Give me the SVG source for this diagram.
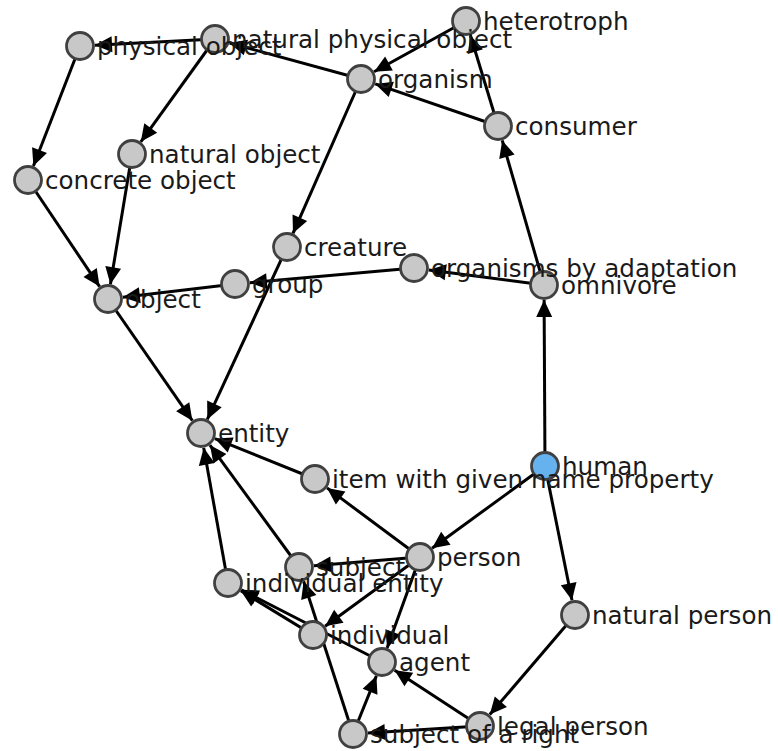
<svg xmlns="http://www.w3.org/2000/svg" width="778" height="751" viewBox="0 0 778 751">
<style>
.e{stroke:#000;stroke-width:3;fill:none;marker-end:url(#ah)}
.n circle{fill:#c8c8c8;stroke:#404040;stroke-width:2.8}
.n text{font-family:"DejaVu Sans",sans-serif;font-size:24.6px;fill:#1a1a1a}
#human circle{fill:#66b2ee}
</style>
<defs>
<marker id="ah" markerUnits="userSpaceOnUse" markerWidth="17" markerHeight="16" refX="17" refY="8" orient="auto" overflow="visible">
<path d="M0,0 L17,8 L0,16 z" fill="#000"/>
</marker>
</defs>
<rect width="778" height="751" fill="#fff"/>
<g id="edges">
<line class="e" x1="80" y1="46" x2="33.4" y2="166"/>
<line class="e" x1="215" y1="39" x2="140.8" y2="141.8"/>
<line class="e" x1="215" y1="39" x2="95" y2="45.2"/>
<line class="e" x1="361" y1="79" x2="229.5" y2="43"/>
<line class="e" x1="466" y1="21" x2="374.1" y2="71.7"/>
<line class="e" x1="498" y1="126" x2="375.2" y2="83.9"/>
<line class="e" x1="498" y1="126" x2="470.4" y2="35.3"/>
<line class="e" x1="544" y1="285" x2="502.2" y2="140.4"/>
<line class="e" x1="544" y1="285" x2="428.9" y2="270"/>
<line class="e" x1="361" y1="79" x2="293" y2="233.3"/>
<line class="e" x1="287" y1="247" x2="207.3" y2="419.4"/>
<line class="e" x1="132" y1="154" x2="110.4" y2="284.2"/>
<line class="e" x1="28" y1="180" x2="99.6" y2="286.6"/>
<line class="e" x1="414" y1="268" x2="249.9" y2="282.7"/>
<line class="e" x1="235" y1="284" x2="122.9" y2="297.2"/>
<line class="e" x1="108" y1="299" x2="192.4" y2="420.7"/>
<line class="e" x1="545" y1="466" x2="544.1" y2="300"/>
<line class="e" x1="545" y1="466" x2="432.1" y2="548.2"/>
<line class="e" x1="545" y1="466" x2="572" y2="600.3"/>
<line class="e" x1="420" y1="557" x2="327" y2="487.9"/>
<line class="e" x1="315" y1="479" x2="214.9" y2="438.6"/>
<line class="e" x1="299" y1="567" x2="209.9" y2="445.1"/>
<line class="e" x1="228" y1="583" x2="203.7" y2="447.8"/>
<line class="e" x1="420" y1="557" x2="314" y2="565.8"/>
<line class="e" x1="420" y1="557" x2="325.1" y2="626.2"/>
<line class="e" x1="420" y1="557" x2="387.1" y2="647.9"/>
<line class="e" x1="313" y1="635" x2="240.8" y2="590.8"/>
<line class="e" x1="382" y1="662" x2="241.3" y2="589.8"/>
<line class="e" x1="353" y1="734" x2="303.6" y2="581.3"/>
<line class="e" x1="353" y1="734" x2="376.4" y2="675.9"/>
<line class="e" x1="480" y1="726" x2="394.6" y2="670.2"/>
<line class="e" x1="575" y1="615" x2="489.8" y2="714.6"/>
<line class="e" x1="480" y1="726" x2="368" y2="733.1"/>
</g>
<g id="physical-object" class="n"><circle cx="80" cy="46" r="13.5"/></g>
<g id="natural-physical-object" class="n"><circle cx="215" cy="39" r="13.5"/></g>
<g id="organism" class="n"><circle cx="361" cy="79" r="13.5"/></g>
<g id="heterotroph" class="n"><circle cx="466" cy="21" r="13.5"/></g>
<g id="consumer" class="n"><circle cx="498" cy="126" r="13.5"/></g>
<g id="natural-object" class="n"><circle cx="132" cy="154" r="13.5"/></g>
<g id="concrete-object" class="n"><circle cx="28" cy="180" r="13.5"/></g>
<g id="creature" class="n"><circle cx="287" cy="247" r="13.5"/></g>
<g id="organisms-by-adaptation" class="n"><circle cx="414" cy="268" r="13.5"/></g>
<g id="omnivore" class="n"><circle cx="544" cy="285" r="13.5"/></g>
<g id="group" class="n"><circle cx="235" cy="284" r="13.5"/></g>
<g id="object" class="n"><circle cx="108" cy="299" r="13.5"/></g>
<g id="entity" class="n"><circle cx="201" cy="433" r="13.5"/></g>
<g id="human" class="n"><circle cx="545" cy="466" r="13.5"/></g>
<g id="item-with-given-name-property" class="n"><circle cx="315" cy="479" r="13.5"/></g>
<g id="person" class="n"><circle cx="420" cy="557" r="13.5"/></g>
<g id="subject" class="n"><circle cx="299" cy="567" r="13.5"/></g>
<g id="individual-entity" class="n"><circle cx="228" cy="583" r="13.5"/></g>
<g id="individual" class="n"><circle cx="313" cy="635" r="13.5"/></g>
<g id="agent" class="n"><circle cx="382" cy="662" r="13.5"/></g>
<g id="natural-person" class="n"><circle cx="575" cy="615" r="13.5"/></g>
<g id="subject-of-a-right" class="n"><circle cx="353" cy="734" r="13.5"/></g>
<g id="legal-person" class="n"><circle cx="480" cy="726" r="13.5"/></g>
<g id="labels" class="n">
<text x="97" y="54.5">physical object</text>
<text x="232" y="47.5">natural physical object</text>
<text x="378" y="87.5">organism</text>
<text x="483" y="29.5">heterotroph</text>
<text x="515" y="134.5">consumer</text>
<text x="149" y="162.5">natural object</text>
<text x="45" y="188.5">concrete object</text>
<text x="304" y="255.5">creature</text>
<text x="431" y="276.5">organisms by adaptation</text>
<text x="561" y="293.5">omnivore</text>
<text x="252" y="292.5">group</text>
<text x="125" y="307.5">object</text>
<text x="218" y="441.5">entity</text>
<text x="562" y="474.5">human</text>
<text x="332" y="487.5">item with given name property</text>
<text x="437" y="565.5">person</text>
<text x="316" y="575.5">subject</text>
<text x="245" y="591.5">individual entity</text>
<text x="330" y="643.5">individual</text>
<text x="399" y="670.5">agent</text>
<text x="592" y="623.5">natural person</text>
<text x="370" y="742.5">subject of a right</text>
<text x="497" y="734.5">legal person</text>
</g>
</svg>
